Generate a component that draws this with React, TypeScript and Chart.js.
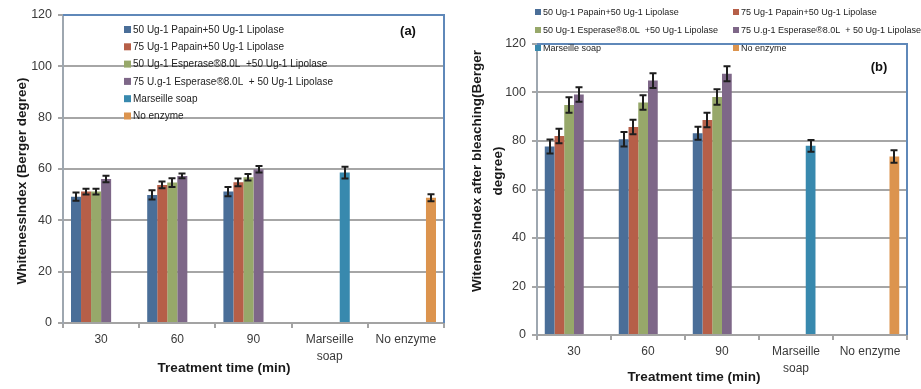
import React, { useEffect, useRef } from "react";
import { Chart, registerables } from "chart.js";

Chart.register(...registerables);

// ---------- data ----------
const categories: (string | string[])[] = ["30", "60", "90", ["Marseille", "soap"], "No enzyme"];
const seriesNames = [
  "50 Ug-1 Papain+50 Ug-1 Lipolase",
  "75 Ug-1 Papain+50 Ug-1 Lipolase",
  "50 Ug-1 Esperase®8.0L  +50 Ug-1 Lipolase",
  "75 U.g-1 Esperase®8.0L  + 50 Ug-1 Lipolase",
  "Marseille soap",
  "No enzyme",
];
const seriesColors = ["#4a6e98", "#b65f48", "#97a86a", "#7e6788", "#3889ae", "#dc944e"];
const yTicksMax = 120;
const yTickStep = 20;

// Panel (a): Whiteness index
const aPapain50 = [49.2, 49.9, 51.2, null, null];
const aPapain75 = [51.2, 53.8, 54.8, null, null];
const aEsperase50 = [51.2, 54.7, 56.8, null, null];
const aEsperase75 = [56.1, 57.3, 59.9, null, null];
const aMarseille = [null, null, null, 58.6, null];
const aNoEnzyme = [null, null, null, null, 48.8];
const aPapain50Err = [1.6, 1.8, 1.8, 0, 0];
const aPapain75Err = [1.1, 1.3, 1.5, 0, 0];
const aEsperase50Err = [1.1, 1.7, 1.3, 0, 0];
const aEsperase75Err = [1.3, 0.9, 1.3, 0, 0];
const aMarseilleErr = [0, 0, 0, 2.3, 0];
const aNoEnzymeErr = [0, 0, 0, 0, 1.4];

// Panel (b): Whiteness index after bleaching
const bPapain50 = [77.7, 80.7, 83.2, null, null];
const bPapain75 = [82.1, 85.8, 88.7, null, null];
const bEsperase50 = [94.8, 95.9, 98.1, null, null];
const bEsperase75 = [99.2, 104.9, 107.7, null, null];
const bMarseille = [null, null, null, 78.0, null];
const bNoEnzyme = [null, null, null, null, 73.6];
const bPapain50Err = [2.9, 3.0, 2.7, 0, 0];
const bPapain75Err = [3.0, 3.0, 3.0, 0, 0];
const bEsperase50Err = [3.2, 3.0, 3.2, 0, 0];
const bEsperase75Err = [3.0, 3.0, 3.1, 0, 0];
const bMarseilleErr = [0, 0, 0, 2.4, 0];
const bNoEnzymeErr = [0, 0, 0, 0, 2.6];

const FONT = "'Liberation Sans', Arial, sans-serif";

type PanelOpts = {
  width: number;
  yWidth: number;
  padTop: number;
  padRight: number;
  padBottom: number;
  values: (number | null)[][];
  errors: number[][];
  legend: { x: number; y: number }[];
  legendFont: number;
  legendBox: number;
  tag: { text: string; x: number; y: number };
  yTitle: { lines: string[]; x: number[]; y: number };
  xTitle: { x: number; y: number };
};

function buildConfig(p: PanelOpts): any {
  const errorBars = {
    id: "errorBars",
    afterDatasetsDraw(chart: any) {
      const ctx = chart.ctx;
      const y = chart.scales.y;
      ctx.save();
      ctx.strokeStyle = "#1e1e1e";
      ctx.lineWidth = 2;
      chart.data.datasets.forEach((ds: any, i: number) => {
        const meta = chart.getDatasetMeta(i);
        meta.data.forEach((el: any, j: number) => {
          const v = ds.data[j];
          const e = p.errors[i][j];
          if (v == null || !e) return;
          const x = Math.round(el.x);
          const yt = y.getPixelForValue(v + e);
          const yb = y.getPixelForValue(v - e);
          ctx.beginPath();
          ctx.moveTo(x, yt);
          ctx.lineTo(x, yb);
          ctx.moveTo(x - 3.5, yt);
          ctx.lineTo(x + 3.5, yt);
          ctx.moveTo(x - 3.5, yb);
          ctx.lineTo(x + 3.5, yb);
          ctx.stroke();
        });
      });
      ctx.restore();
    },
  };
  const decor = {
    id: "decor",
    afterDraw(chart: any) {
      const ctx = chart.ctx;
      const a = chart.chartArea;
      ctx.save();
      // frame (top + right)
      ctx.strokeStyle = "#5f88b9";
      ctx.lineWidth = 2;
      ctx.beginPath();
      ctx.moveTo(a.left, a.top);
      ctx.lineTo(a.right, a.top);
      ctx.lineTo(a.right, a.bottom);
      ctx.stroke();
      // legend
      ctx.font = `${p.legendFont}px ${FONT}`;
      ctx.textBaseline = "middle";
      ctx.textAlign = "left";
      const b = p.legendBox;
      p.legend.forEach((pos, i) => {
        ctx.fillStyle = seriesColors[i];
        ctx.fillRect(pos.x, pos.y - b / 2, b, b);
        ctx.fillStyle = "#222";
        ctx.fillText(seriesNames[i], pos.x + b + 2, pos.y + 0.5);
      });
      // tag
      ctx.font = `bold 13px ${FONT}`;
      ctx.textAlign = "center";
      ctx.fillStyle = "#111";
      ctx.fillText(p.tag.text, p.tag.x, p.tag.y);
      // x title
      ctx.font = `bold 13.5px ${FONT}`;
      ctx.fillStyle = "#1a1a1a";
      ctx.fillText("Treatment time (min)", p.xTitle.x, p.xTitle.y);
      // y title
      p.yTitle.lines.forEach((line, k) => {
        ctx.save();
        ctx.translate(p.yTitle.x[k], p.yTitle.y);
        ctx.rotate(-Math.PI / 2);
        ctx.fillText(line, 0, 0);
        ctx.restore();
      });
      ctx.restore();
    },
  };
  return {
    type: "bar",
    data: {
      labels: categories,
      datasets: p.values.map((vals, i) => ({
        label: seriesNames[i],
        data: vals,
        backgroundColor: seriesColors[i],
        borderWidth: 0,
        categoryPercentage: 0.79,
        barPercentage: 1,
      })),
    },
    options: {
      responsive: false,
      animation: false,
      devicePixelRatio: 1,
      layout: { padding: { left: 0, top: p.padTop, right: p.padRight, bottom: p.padBottom } },
      plugins: { legend: { display: false }, tooltip: { enabled: false }, title: { display: false } },
      scales: {
        x: {
          offset: true,
          grid: { offset: true, drawOnChartArea: false, drawTicks: true, tickLength: 5, color: "#a3a3a3", lineWidth: 2 },
          border: { display: true, color: "#a3a3a3", width: 2 },
          ticks: { font: { family: FONT, size: 12, lineHeight: 1.35 }, color: "#3a3a3a", padding: 4, maxRotation: 0, autoSkip: false },
          afterFit: (s: any) => { s.height = 40; },
        },
        y: {
          min: 0,
          max: yTicksMax,
          ticks: { stepSize: yTickStep, font: { family: FONT, size: 12.5 }, color: "#3a3a3a", padding: 6 },
          grid: { color: "#a6a6a6", lineWidth: 2, tickLength: 5 },
          border: { display: true, color: "#9ea7b0", width: 2 },
          afterFit: (s: any) => { s.width = p.yWidth; },
        },
      },
    },
    plugins: [errorBars, decor],
  };
}

const panelA: PanelOpts = {
  width: 455,
  yWidth: 63,
  padTop: 15,
  padRight: 11,
  padBottom: 26,
  values: [aPapain50, aPapain75, aEsperase50, aEsperase75, aMarseille, aNoEnzyme],
  errors: [aPapain50Err, aPapain75Err, aEsperase50Err, aEsperase75Err, aMarseilleErr, aNoEnzymeErr],
  legend: [0, 1, 2, 3, 4, 5].map((i) => ({ x: 124, y: 29.5 + i * 17.3 })),
  legendFont: 10,
  legendBox: 7,
  tag: { text: "(a)", x: 408, y: 31 },
  yTitle: { lines: ["WhitenessIndex (Berger degree)"], x: [22], y: 181 },
  xTitle: { x: 224, y: 368 },
};

const panelB: PanelOpts = {
  width: 466,
  yWidth: 82,
  padTop: 44,
  padRight: 14,
  padBottom: 14,
  values: [bPapain50, bPapain75, bEsperase50, bEsperase75, bMarseille, bNoEnzyme],
  errors: [bPapain50Err, bPapain75Err, bEsperase50Err, bEsperase75Err, bMarseilleErr, bNoEnzymeErr],
  legend: [0, 1, 2, 3, 4, 5].map((i) => ({ x: i % 2 === 0 ? 80 : 278, y: 12 + Math.floor(i / 2) * 18 })),
  legendFont: 9,
  legendBox: 6,
  tag: { text: "(b)", x: 424, y: 67 },
  yTitle: { lines: ["WitenessIndex after bleaching(Berger", "degree)"], x: [22.5, 43], y: 171 },
  xTitle: { x: 239, y: 377 },
};

function Panel({ p, left }: { p: PanelOpts; left: number }) {
  const ref = useRef<HTMLCanvasElement | null>(null);
  useEffect(() => {
    if (!ref.current) return;
    const chart = new Chart(ref.current, buildConfig(p));
    return () => chart.destroy();
  }, [p]);
  return (
    <canvas
      ref={ref}
      width={p.width}
      height={389}
      style={{ position: "absolute", left, top: 0, width: p.width, height: 389, display: "block" }}
    />
  );
}

export default function App() {
  return (
    <div style={{ position: "absolute", left: 0, top: 0, width: 921, height: 389, background: "#fff" }}>
      <Panel p={panelA} left={0} />
      <Panel p={panelB} left={455} />
    </div>
  );
}
